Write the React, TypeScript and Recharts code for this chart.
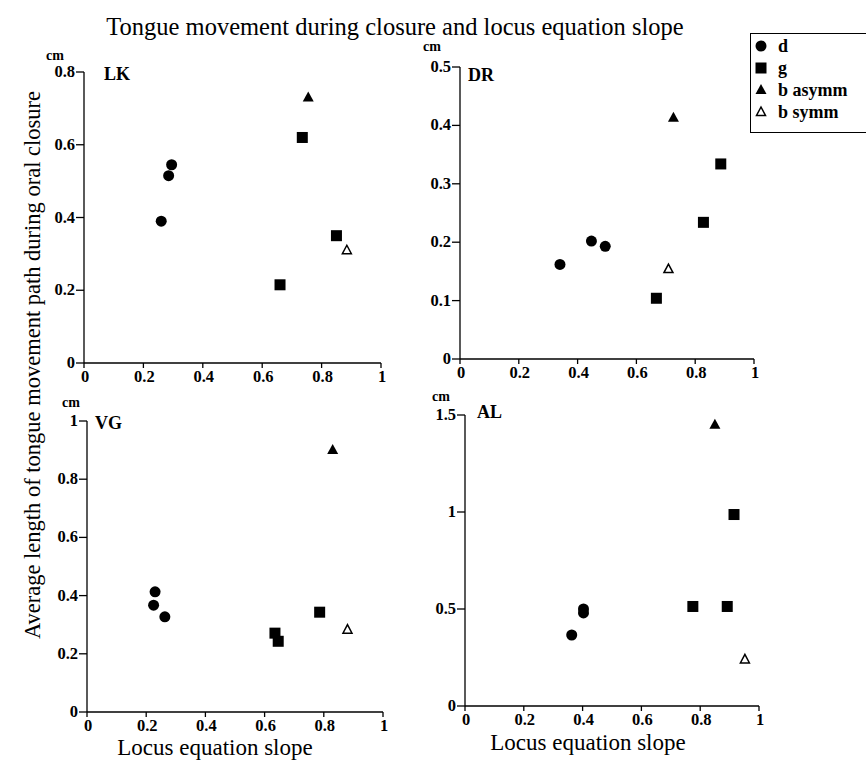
import React from 'react';
import { ScatterChart, Scatter, XAxis, YAxis } from 'recharts';

const FONT = '"Liberation Serif", "Times New Roman", serif';

const X_TICKS = [0, 0.2, 0.4, 0.6, 0.8, 1];

// LK
const LK_D = [{ x: 0.26, y: 0.39 }, { x: 0.285, y: 0.515 }, { x: 0.295, y: 0.545 }];
const LK_G = [{ x: 0.66, y: 0.215 }, { x: 0.735, y: 0.62 }, { x: 0.85, y: 0.35 }];
const LK_BA = [{ x: 0.755, y: 0.73 }];
const LK_BS = [{ x: 0.885, y: 0.31 }];
const LK_Y = [0, 0.2, 0.4, 0.6, 0.8];

// DR
const DR_D = [{ x: 0.34, y: 0.162 }, { x: 0.447, y: 0.202 }, { x: 0.494, y: 0.193 }];
const DR_G = [{ x: 0.668, y: 0.104 }, { x: 0.828, y: 0.234 }, { x: 0.887, y: 0.334 }];
const DR_BA = [{ x: 0.726, y: 0.413 }];
const DR_BS = [{ x: 0.709, y: 0.154 }];
const DR_Y = [0, 0.1, 0.2, 0.3, 0.4, 0.5];

// VG
const VG_D = [{ x: 0.23, y: 0.413 }, { x: 0.225, y: 0.367 }, { x: 0.263, y: 0.327 }];
const VG_G = [{ x: 0.635, y: 0.271 }, { x: 0.646, y: 0.243 }, { x: 0.786, y: 0.343 }];
const VG_BA = [{ x: 0.83, y: 0.9 }];
const VG_BS = [{ x: 0.88, y: 0.283 }];
const VG_Y = [0, 0.2, 0.4, 0.6, 0.8, 1];

// AL
const AL_D = [{ x: 0.363, y: 0.366 }, { x: 0.403, y: 0.48 }, { x: 0.403, y: 0.5 }];
const AL_G = [{ x: 0.775, y: 0.513 }, { x: 0.892, y: 0.513 }, { x: 0.915, y: 0.987 }];
const AL_BA = [{ x: 0.85, y: 1.45 }];
const AL_BS = [{ x: 0.952, y: 0.24 }];
const AL_Y = [0, 0.5, 1, 1.5];

const LEGEND = ['d', 'g', 'b asymm', 'b symm'];

const Circle = (p: any) => <circle cx={p.cx} cy={p.cy} r={5.5} fill="#000" />;
const Square = (p: any) => <rect x={p.cx - 5.5} y={p.cy - 5.5} width={11} height={11} fill="#000" />;
const TriFill = (p: any) => (
  <path d={`M${p.cx},${p.cy - 6}L${p.cx + 5.5},${p.cy + 4}L${p.cx - 5.5},${p.cy + 4}Z`} fill="#000" />
);
const TriOpen = (p: any) => (
  <path d={`M${p.cx},${p.cy - 5}L${p.cx + 4.5},${p.cy + 3.5}L${p.cx - 4.5},${p.cy + 3.5}Z`} fill="#fff" stroke="#000" strokeWidth={1.5} />
);
const SHAPES = [Circle, Square, TriFill, TriOpen];

const XTick = (p: any) => (
  <text x={p.x + 1} y={p.y + 12} textAnchor="middle" fontFamily={FONT} fontSize={16.5} fontWeight={700} fill="#000">
    {p.payload.value}
  </text>
);
const YTick = (p: any) => (
  <text x={p.x} y={p.y + 5} textAnchor="end" fontFamily={FONT} fontSize={16.5} fontWeight={700} fill="#000">
    {p.payload.value}
  </text>
);

type PanelProps = {
  name: string;
  series: { x: number; y: number }[][];
  yTicks: number[];
  left: number;
  top: number;
  width: number;
  height: number;
  nameDx: number;
  nameDy: number;
  cmX: number;
  cmY: number;
};

function Panel({ name, series, yTicks, left, top, width, height, nameDx, nameDy, cmX, cmY }: PanelProps) {
  const yMax = yTicks[yTicks.length - 1];
  return (
    <>
      <div style={{ position: 'absolute', left: left - 60, top: top - 10 }}>
        <ScatterChart width={60 + width + 15} height={10 + height + 40} margin={{ top: 10, right: 15, bottom: 0, left: 0 }}>
          <XAxis type="number" dataKey="x" domain={[0, 1]} ticks={X_TICKS} height={40}
            stroke="#000" strokeWidth={1.3} tickSize={5} tickMargin={2} tick={<XTick />} interval={0} />
          <YAxis type="number" dataKey="y" domain={[0, yMax]} ticks={yTicks} width={60}
            stroke="#000" strokeWidth={1.3} tickSize={8} tickMargin={1} tick={<YTick />} interval={0} />
          {series.map((s, i) => (
            <Scatter key={i} data={s} shape={SHAPES[i]} isAnimationActive={false} />
          ))}
        </ScatterChart>
      </div>
      <div style={{ position: 'absolute', left: left + nameDx, top: top + nameDy - 10, fontFamily: FONT, fontSize: 18, fontWeight: 700, lineHeight: '20px' }}>{name}</div>
      <div style={{ position: 'absolute', left: cmX, top: cmY - 7, fontFamily: FONT, fontSize: 14, fontWeight: 700, lineHeight: '14px' }}>cm</div>
    </>
  );
}

export default function App() {
  return (
    <div style={{ position: 'absolute', left: 0, top: 0, width: 866, height: 761, overflow: 'hidden', background: '#fff', fontFamily: FONT, color: '#000' }}>
      <div style={{ position: 'absolute', left: 0, width: 790, top: 13, textAlign: 'center', fontSize: 24.5, lineHeight: '28px' }}>
        Tongue movement during closure and locus equation slope
      </div>
      <div style={{ position: 'absolute', left: 33 - 320, top: 365 - 14, width: 640, height: 28, textAlign: 'center', fontSize: 22.5, lineHeight: '28px', transform: 'rotate(-90deg)' }}>
        Average length of tongue movement path during oral closure
      </div>
      <div style={{ position: 'absolute', left: 215 - 150, width: 300, top: 739, textAlign: 'center', fontSize: 23, lineHeight: '18px' }}>Locus equation slope</div>
      <div style={{ position: 'absolute', left: 588 - 150, width: 300, top: 734, textAlign: 'center', fontSize: 23, lineHeight: '18px' }}>Locus equation slope</div>

      <Panel name="LK" series={[LK_D, LK_G, LK_BA, LK_BS]} yTicks={LK_Y} left={84} top={72} width={297} height={291} nameDx={20} nameDy={2} cmX={46} cmY={56} />
      <Panel name="DR" series={[DR_D, DR_G, DR_BA, DR_BS]} yTicks={DR_Y} left={460} top={67} width={294} height={292} nameDx={8} nameDy={8} cmX={423} cmY={47} />
      <Panel name="VG" series={[VG_D, VG_G, VG_BA, VG_BS]} yTicks={VG_Y} left={87} top={421} width={296} height={291} nameDx={8} nameDy={2} cmX={62} cmY={403} />
      <Panel name="AL" series={[AL_D, AL_G, AL_BA, AL_BS]} yTicks={AL_Y} left={465} top={415} width={294} height={291} nameDx={12} nameDy={-3} cmX={432} cmY={397} />

      <div style={{ position: 'absolute', left: 750, top: 33, width: 116, height: 98, borderLeft: '1px solid #000', borderTop: '1px solid #000', borderBottom: '1px solid #000' }}>
        {LEGEND.map((label, i) => {
          const Shape = SHAPES[i];
          return (
            <div key={label} style={{ position: 'absolute', left: 0, top: 1 + i * 22, height: 22, display: 'flex', alignItems: 'center' }}>
              <svg width={22} height={22}>
                <Shape cx={10} cy={11} />
              </svg>
              <span style={{ marginLeft: 5, fontSize: 18, fontWeight: 700 }}>{label}</span>
            </div>
          );
        })}
      </div>
    </div>
  );
}
